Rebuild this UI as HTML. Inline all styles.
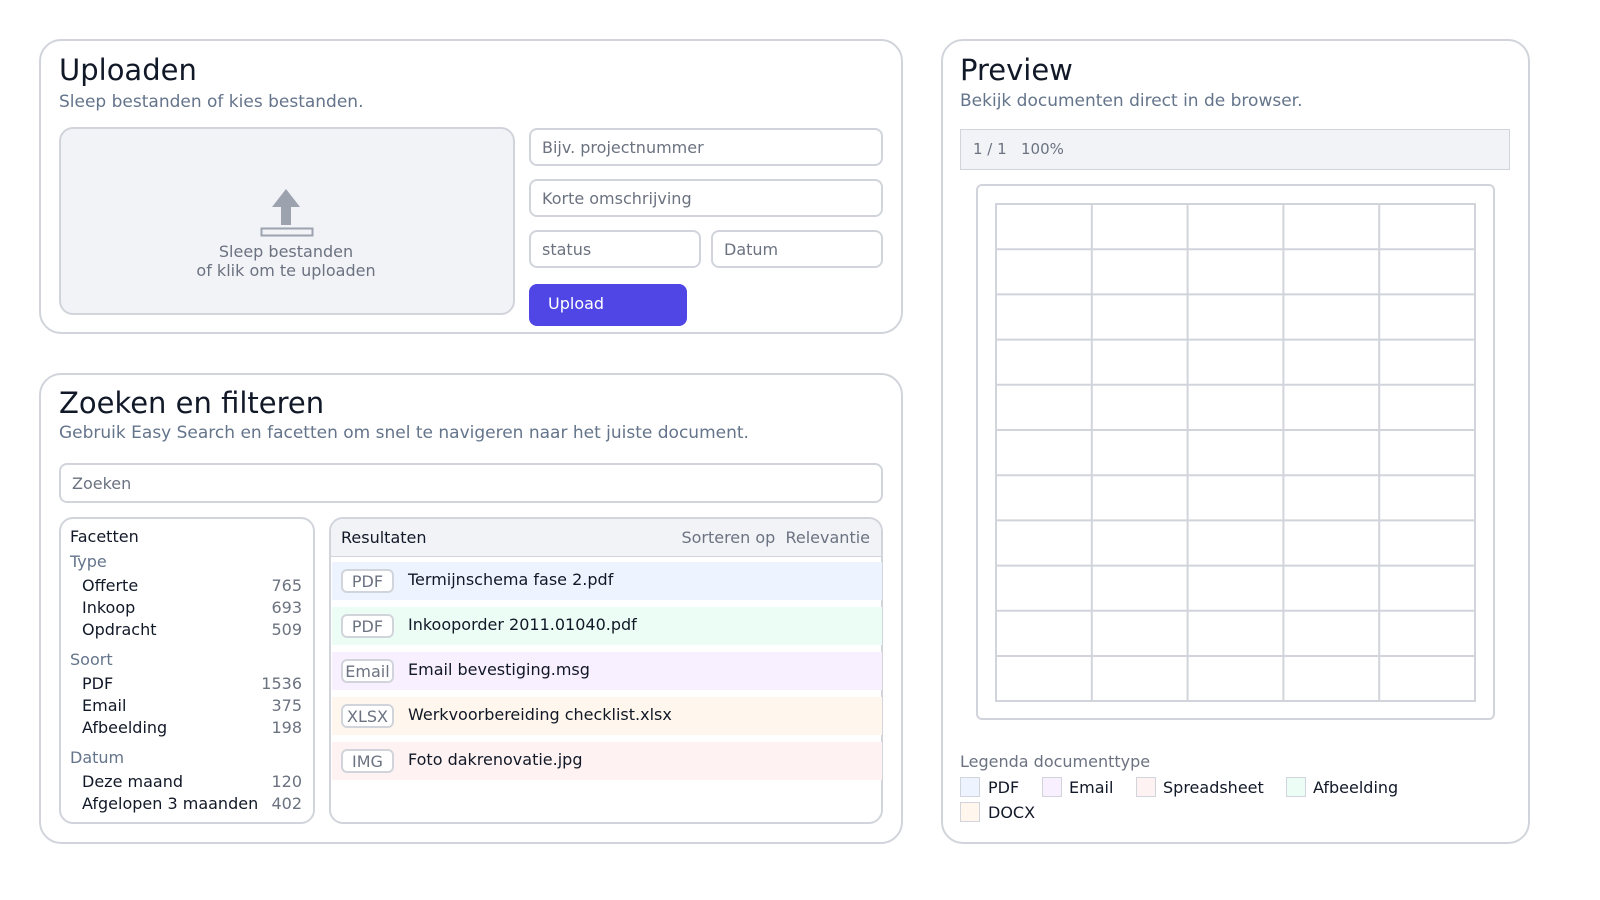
<!DOCTYPE html>
<html><head><meta charset="utf-8"><style>
*{box-sizing:border-box;margin:0;padding:0}
body{width:1600px;height:900px;background:#fff;font-family:"DejaVu Sans","Liberation Sans",sans-serif;color:#111827;position:relative;overflow:hidden}
.a{position:absolute}
.card{position:absolute;border:2px solid #d1d5db;border-radius:22px;background:#fff}
.h{font-size:29px;color:#111827}
.sub{font-size:17px;color:#64748b}
.inp{position:absolute;border:2px solid #d1d5db;border-radius:8px;background:#fff;font-size:16px;color:#6b7280;padding-left:11px;display:flex;align-items:center}
.row{position:absolute;left:332px;width:550px;height:38px;display:flex;align-items:center;font-size:16px}
.badge{position:absolute;left:9px;top:7px;width:53px;height:24px;border:2px solid #d1d5db;border-radius:6px;background:#fff;color:#6b7280;font-size:16px;display:flex;align-items:center;justify-content:center}
.row .t{position:absolute;left:76px;top:8px}
.fi{position:absolute;left:82px;width:220px;font-size:16px;display:flex;justify-content:space-between}
.fi span:last-child{color:#6b7280}
.fh{position:absolute;left:70px;font-size:16px;color:#64748b}
.sw{position:absolute;width:20px;height:20px;border:1px solid #d1d5db}
.lg{position:absolute;font-size:16px}
.dz{font-size:16px}
</style></head><body>
<div class="card" style="left:39px;top:39px;width:864px;height:295px"></div>
<div class="a h" style="left:59px;top:53px">Uploaden</div>
<div class="a sub" style="left:59px;top:92px">Sleep bestanden of kies bestanden.</div>
<div class="a" style="left:59px;top:127px;width:456px;height:188px;background:#f2f3f7;border:2px solid #d1d5db;border-radius:14px"></div>
<svg class="a" style="left:258px;top:187px" width="58" height="52"><polygon points="28,2 42,20 33,20 33,38 23,38 23,20 14,20" fill="#9ca3af"/><rect x="3.5" y="41.5" width="51" height="7" fill="none" stroke="#9ca3af" stroke-width="2"/></svg>
<div class="a dz" style="left:160px;top:242px;width:252px;text-align:center;line-height:19px;color:#6b7280">Sleep bestanden<br>of klik om te uploaden</div>
<div class="inp" style="left:529px;top:128px;width:354px;height:38px">Bijv. projectnummer</div>
<div class="inp" style="left:529px;top:179px;width:354px;height:38px">Korte omschrijving</div>
<div class="inp" style="left:529px;top:230px;width:172px;height:38px">status</div>
<div class="inp" style="left:711px;top:230px;width:172px;height:38px">Datum</div>
<div class="a" style="left:529px;top:284px;width:158px;height:42px;background:#4f46e5;border-radius:8px;color:#fff;font-size:16px;padding:10px 0 0 19px">Upload</div>

<div class="card" style="left:39px;top:373px;width:864px;height:471px"></div>
<div class="a h" style="left:59px;top:386px">Zoeken en filteren</div>
<div class="a sub" style="left:59px;top:423px">Gebruik Easy Search en facetten om snel te navigeren naar het juiste document.</div>
<div class="inp" style="left:59px;top:463px;width:824px;height:40px">Zoeken</div>
<div class="a" style="left:59px;top:517px;width:256px;height:307px;border:2px solid #d1d5db;border-radius:14px"></div>
<div class="a" style="left:70px;top:527px;font-size:16px">Facetten</div>
<div class="fh" style="top:552px">Type</div>
<div class="fi" style="top:576px"><span>Offerte</span><span>765</span></div>
<div class="fi" style="top:598px"><span>Inkoop</span><span>693</span></div>
<div class="fi" style="top:620px"><span>Opdracht</span><span>509</span></div>
<div class="fh" style="top:650px">Soort</div>
<div class="fi" style="top:674px"><span>PDF</span><span>1536</span></div>
<div class="fi" style="top:696px"><span>Email</span><span>375</span></div>
<div class="fi" style="top:718px"><span>Afbeelding</span><span>198</span></div>
<div class="fh" style="top:748px">Datum</div>
<div class="fi" style="top:772px"><span>Deze maand</span><span>120</span></div>
<div class="fi" style="top:794px"><span>Afgelopen 3 maanden</span><span>402</span></div>

<div class="a" style="left:329px;top:517px;width:554px;height:307px;border:2px solid #d1d5db;border-radius:14px;overflow:hidden">
<div style="height:38px;background:#f2f3f7;border-bottom:1px solid #d1d5db;font-size:16px;padding:9px 0 0 10px;position:relative">Resultaten<span style="position:absolute;right:11px;top:9px;color:#6b7280">Sorteren op&nbsp; Relevantie</span></div>
</div>
<div class="row" style="top:562px;background:#eef4ff"><div class="badge">PDF</div><div class="t">Termijnschema fase 2.pdf</div></div>
<div class="row" style="top:607px;background:#ecfdf5"><div class="badge">PDF</div><div class="t">Inkooporder 2011.01040.pdf</div></div>
<div class="row" style="top:652px;background:#f8efff"><div class="badge">Email</div><div class="t">Email bevestiging.msg</div></div>
<div class="row" style="top:697px;background:#fff7ed"><div class="badge">XLSX</div><div class="t">Werkvoorbereiding checklist.xlsx</div></div>
<div class="row" style="top:742px;background:#fef2f2"><div class="badge">IMG</div><div class="t">Foto dakrenovatie.jpg</div></div>

<div class="card" style="left:941px;top:39px;width:589px;height:805px"></div>
<div class="a h" style="left:960px;top:53px">Preview</div>
<div class="a sub" style="left:960px;top:91px">Bekijk documenten direct in de browser.</div>
<div class="a" style="left:960px;top:129px;width:550px;height:41px;background:#f2f3f7;border:1px solid #d1d5db;font-size:15px;color:#6b7280;padding:10px 0 0 12px">1 / 1&nbsp;&nbsp; 100%</div>
<div class="a" style="left:976px;top:184px;width:519px;height:536px;border:2px solid #d1d5db;border-radius:6px"></div>
<svg class="a" style="left:995px;top:203px" width="482" height="500">
<g stroke="#d1d5db" stroke-width="2" fill="none">
<rect x="1" y="1" width="479" height="497"/>
<line x1="96.8" y1="0" x2="96.8" y2="499"/><line x1="192.6" y1="0" x2="192.6" y2="499"/><line x1="288.4" y1="0" x2="288.4" y2="499"/><line x1="384.2" y1="0" x2="384.2" y2="499"/>
<line x1="0" y1="46.2" x2="481" y2="46.2"/><line x1="0" y1="91.4" x2="481" y2="91.4"/><line x1="0" y1="136.6" x2="481" y2="136.6"/><line x1="0" y1="181.8" x2="481" y2="181.8"/><line x1="0" y1="227" x2="481" y2="227"/><line x1="0" y1="272.2" x2="481" y2="272.2"/><line x1="0" y1="317.4" x2="481" y2="317.4"/><line x1="0" y1="362.6" x2="481" y2="362.6"/><line x1="0" y1="407.8" x2="481" y2="407.8"/><line x1="0" y1="453" x2="481" y2="453"/>
</g></svg>
<div class="a" style="left:960px;top:752px;font-size:16px;color:#6b7280">Legenda documenttype</div>
<div class="sw" style="left:960px;top:777px;background:#eef4ff"></div><div class="lg" style="left:988px;top:778px">PDF</div>
<div class="sw" style="left:1042px;top:777px;background:#f8efff"></div><div class="lg" style="left:1069px;top:778px">Email</div>
<div class="sw" style="left:1136px;top:777px;background:#fef2f2"></div><div class="lg" style="left:1163px;top:778px">Spreadsheet</div>
<div class="sw" style="left:1286px;top:777px;background:#ecfdf5"></div><div class="lg" style="left:1313px;top:778px">Afbeelding</div>
<div class="sw" style="left:960px;top:802px;background:#fff7ed"></div><div class="lg" style="left:988px;top:803px">DOCX</div>
</body></html>
